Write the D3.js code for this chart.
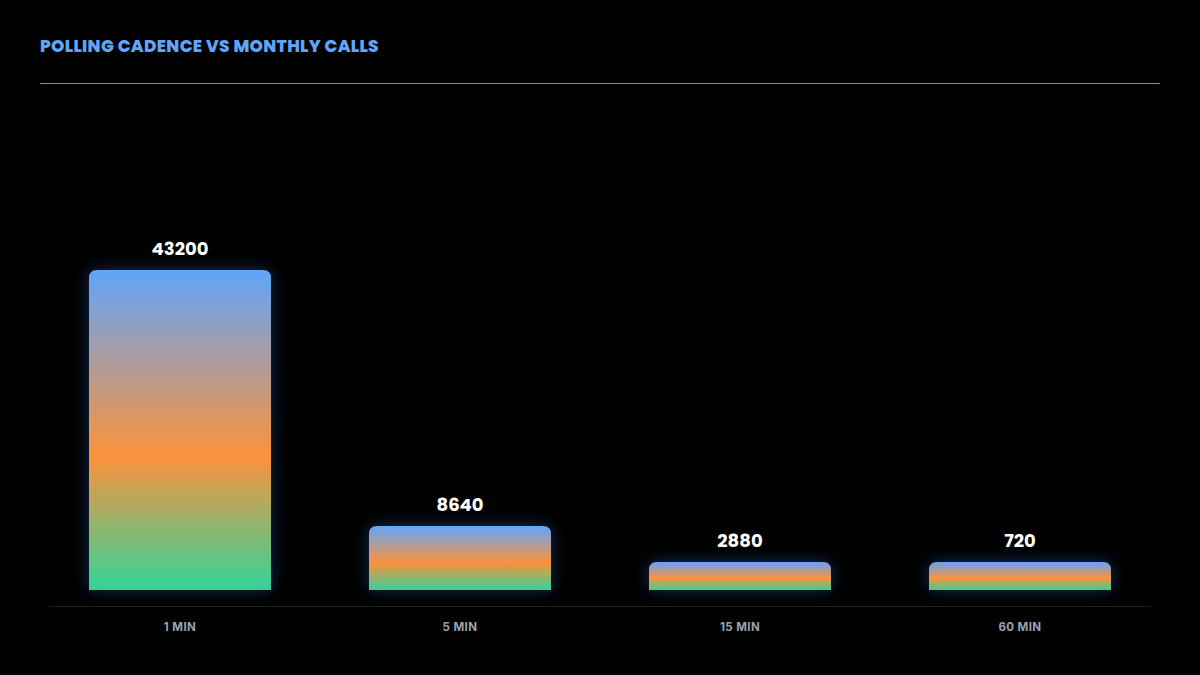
<!DOCTYPE html>
<html><head><meta charset="utf-8">
<script src="https://cdn.jsdelivr.net/npm/d3@7"></script>
<style>body{margin:0;background:#000}svg{display:block}</style>
</head><body>
<script>
const categories = ["1 MIN", "5 MIN", "15 MIN", "60 MIN"];
const calls = [43200, 8640, 2880, 720];
const title = "POLLING CADENCE VS MONTHLY CALLS";

const W = 1200, H = 675;
const svg = d3.select("body").append("svg").attr("width", W).attr("height", H).style("background", "#000");
const defs = svg.append("defs");
const g = defs.append("linearGradient").attr("id", "grad").attr("x1", 0).attr("y1", 0).attr("x2", 0).attr("y2", 1);
g.append("stop").attr("offset", "0%").attr("stop-color", "#60a5fa");
g.append("stop").attr("offset", "58%").attr("stop-color", "#fb923c");
g.append("stop").attr("offset", "100%").attr("stop-color", "#34d399");
const f = defs.append("filter").attr("id", "glow").attr("x", "-20%").attr("y", "-40%").attr("width", "140%").attr("height", "180%");
f.append("feGaussianBlur").attr("in", "SourceAlpha").attr("stdDeviation", 8).attr("result", "b");
f.append("feFlood").attr("flood-color", "#3b82f6").attr("flood-opacity", 0.35);
f.append("feComposite").attr("in2", "b").attr("operator", "in").attr("result", "s");
const m = f.append("feMerge"); m.append("feMergeNode").attr("in", "s"); m.append("feMergeNode").attr("in", "SourceGraphic");

svg.append("text").attr("x", 40).attr("y", 52).text(title)
  .attr("fill", "#60a5fa").attr("font-family", "Poppins, Montserrat, Inter, sans-serif")
  .attr("font-weight", 800).attr("font-size", 17).attr("letter-spacing", 0.3);
svg.append("line").attr("x1", 40).attr("x2", 1160).attr("y1", 83.5).attr("y2", 83.5).attr("stroke", "#6b8fd6").attr("stroke-width", 1);

const x = d3.scaleBand().domain(categories).range([40, 1160]).paddingInner(0.35).paddingOuter(0.175);
const y = d3.scaleLinear().domain([0, 43200]).range([590, 270]);
const minH = 28, r = 8;

svg.append("line").attr("x1", 50).attr("x2", 1150).attr("y1", 606.5).attr("y2", 606.5).attr("stroke", "#222").attr("stroke-width", 1);

function barPath(x0, w, top, bot) {
  return `M${x0},${bot}V${top + r}Q${x0},${top} ${x0 + r},${top}H${x0 + w - r}Q${x0 + w},${top} ${x0 + w},${top + r}V${bot}Z`;
}
categories.forEach((c, i) => {
  const bot = y(0);
  const top = Math.min(y(calls[i]), bot - minH);
  const x0 = x(c), w = x.bandwidth();
  svg.append("path").attr("d", barPath(x0, w, top, bot)).attr("fill", "url(#grad)").attr("filter", "url(#glow)");
  svg.append("text").attr("x", x0 + w / 2).attr("y", top - 15).attr("text-anchor", "middle")
    .attr("fill", "#fff").attr("font-family", "Poppins, Inter, sans-serif").attr("font-weight", 700).attr("font-size", 18)
    .text(calls[i]);
  svg.append("text").attr("x", x0 + w / 2).attr("y", 631).attr("text-anchor", "middle")
    .attr("fill", "#9ca3af").attr("font-family", "Inter, sans-serif").attr("font-weight", 700).attr("font-size", 11.5)
    .attr("letter-spacing", 0.4).text(c);
});
</script>
</body></html>
